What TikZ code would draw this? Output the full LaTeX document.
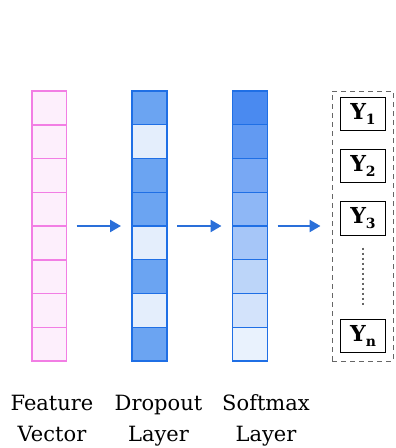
\documentclass[tikz,border=0pt]{standalone}
\usepackage{fontspec}
\setmainfont{DejaVu Serif}
\usetikzlibrary{arrows.meta,fit}
\definecolor{pinkline}{HTML}{F27EE4}
\definecolor{pinkfill}{HTML}{FDEFFC}
\definecolor{blueline}{HTML}{1F6FE5}
\definecolor{dropdark}{HTML}{6BA4F2}
\definecolor{droplight}{HTML}{E4EEFC}
\definecolor{smaxtop}{HTML}{4A8AF0}
\definecolor{smaxbot}{HTML}{E9F2FD}
\definecolor{arrowblue}{HTML}{2A6FD9}
\definecolor{dashgray}{HTML}{666666}
\newcommand{\ylab}[1]{{\bfseries Y\raisebox{-4.5pt}{\fontsize{14}{14}\selectfont #1}}}
\begin{document}
\begin{tikzpicture}[x=1pt,y=-1pt,
  cell/.style={minimum width=35pt,minimum height=33.75pt,inner sep=0pt,outer sep=0pt},
  fcell/.style={cell,minimum width=34.5pt,draw=pinkline,fill=pinkfill,line width=1.5pt},
  dcell/.style={cell,draw=blueline,line width=1.3pt},
  colfit/.style={inner sep=0pt,outer sep=0pt},
  flow/.style={draw=arrowblue,line width=2.4pt,-{Triangle[length=11pt,width=12pt]},shorten <=10pt,shorten >=11pt},
  ybox/.style={draw=black,line width=1pt,minimum width=45pt,minimum height=33.5pt,inner sep=0pt,font=\fontsize{22}{22}\selectfont},
  lab/.style={anchor=base,inner sep=0pt,font=\fontsize{21}{24}\selectfont,text=black}]
\useasboundingbox (0,0) rectangle (396,448);
% feature vector
\foreach \i in {1,...,8}{
  \node[fcell] (f\i) at (49.3,{91+33.75*(\i-0.5)}) {};
}
% dropout layer
\foreach \i/\c in {1/dropdark,2/droplight,3/dropdark,4/dropdark,5/droplight,6/dropdark,7/droplight,8/dropdark}{
  \node[dcell,fill=\c] (d\i) at (149.5,{91+33.75*(\i-0.5)}) {};
}
% softmax layer
\foreach \i in {1,...,8}{
  \pgfmathtruncatemacro{\pct}{100-(\i-1)*100/7}
  \node[dcell,fill=smaxtop!\pct!smaxbot] (s\i) at (250,{91+33.75*(\i-0.5)}) {};
}
\node[colfit,fit=(f1)(f8)] (fcol) {};
\node[colfit,fit=(d1)(d8)] (dcol) {};
\node[colfit,fit=(s1)(s8)] (scol) {};
% output box
\node[draw=dashgray,line width=1pt,dash pattern=on 5pt off 4pt,minimum width=61pt,minimum height=270pt,inner sep=0pt] (out) at (362.5,226) {};
\node[ybox] (y1) at (363,114) {\ylab{1}};
\node[ybox] (y2) at (363,166) {\ylab{2}};
\node[ybox] (y3) at (363,218.3) {\ylab{3}};
\node[ybox] (yn) at (363,336) {\ylab{n}};
\draw[dashgray,line width=1.3pt,dash pattern=on 2pt off 3pt,shorten <=12pt,shorten >=12pt] (y3) -- (yn);
% arrows
\draw[flow] (fcol.east) -- (dcol.west);
\draw[flow] (dcol.east) -- (scol.west);
\draw[flow] (scol.east) -- (out.west);
% labels
\node[lab] (l1a) at (52,410) {Feature};
\node[lab] (l1b) at (52,441) {Vector};
\node[lab] (l2a) at (158.5,410) {Dropout};
\node[lab] (l2b) at (158.5,441) {Layer};
\node[lab] (l3a) at (266,410) {Softmax};
\node[lab] (l3b) at (266,441) {Layer};
\end{tikzpicture}
\end{document}
